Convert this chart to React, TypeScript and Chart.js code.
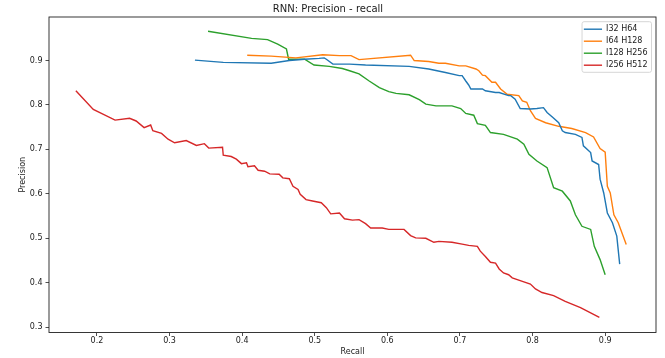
import React, { useEffect, useRef } from "react";
import { Chart, registerables } from "chart.js";

Chart.register(...registerables);

const chartTitle = "RNN: Precision - recall";
const xAxisLabel = "Recall";
const yAxisLabel = "Precision";
const seriesNames = ["I32 H64", "I64 H128", "I128 H256", "I256 H512"];
const seriesColors = ["#1f77b4", "#ff7f0e", "#2ca02c", "#d62728"];
const xTicks = [0.2, 0.3, 0.4, 0.5, 0.6, 0.7, 0.8, 0.9];
const yTicks = [0.3, 0.4, 0.5, 0.6, 0.7, 0.8, 0.9];

// [recall, precision]
const curveI32H64: [number, number][] = [
  [0.335, 0.901], [0.374, 0.896], [0.44, 0.894], [0.465, 0.9], [0.486, 0.903],
  [0.506, 0.905], [0.513, 0.906], [0.516, 0.903], [0.525, 0.892], [0.548, 0.892],
  [0.57, 0.89], [0.63, 0.887], [0.657, 0.881], [0.68, 0.873], [0.699, 0.866],
  [0.703, 0.866], [0.708, 0.854], [0.712, 0.845], [0.715, 0.836], [0.731, 0.836],
  [0.735, 0.832], [0.749, 0.828], [0.754, 0.828], [0.767, 0.821], [0.77, 0.821],
  [0.776, 0.813], [0.783, 0.792], [0.797, 0.791], [0.806, 0.792], [0.815, 0.794],
  [0.82, 0.783], [0.828, 0.772], [0.836, 0.76], [0.841, 0.742], [0.845, 0.738],
  [0.859, 0.734], [0.868, 0.727], [0.87, 0.708], [0.88, 0.693], [0.882, 0.674],
  [0.891, 0.666], [0.893, 0.633], [0.898, 0.602], [0.903, 0.557], [0.91, 0.535],
  [0.916, 0.505], [0.92, 0.442],
];

const curveI64H128: [number, number][] = [
  [0.407, 0.912], [0.44, 0.91], [0.474, 0.906], [0.511, 0.913], [0.534, 0.911],
  [0.55, 0.911], [0.561, 0.902], [0.632, 0.912], [0.637, 0.9], [0.657, 0.898],
  [0.671, 0.894], [0.68, 0.894], [0.699, 0.888], [0.708, 0.888], [0.722, 0.881],
  [0.726, 0.877], [0.731, 0.867], [0.735, 0.866], [0.744, 0.851], [0.749, 0.851],
  [0.756, 0.836], [0.765, 0.824], [0.781, 0.821], [0.786, 0.809], [0.792, 0.806],
  [0.797, 0.787], [0.804, 0.77], [0.818, 0.76], [0.836, 0.752], [0.854, 0.747],
  [0.873, 0.738], [0.884, 0.728], [0.893, 0.702], [0.9, 0.694], [0.903, 0.617],
  [0.907, 0.602], [0.912, 0.553], [0.918, 0.535], [0.929, 0.486],
];

const curveI128H256: [number, number][] = [
  [0.353, 0.966], [0.413, 0.95], [0.435, 0.947], [0.449, 0.937], [0.461, 0.926],
  [0.464, 0.903], [0.486, 0.903], [0.499, 0.89], [0.52, 0.887], [0.538, 0.882],
  [0.548, 0.877], [0.561, 0.87], [0.575, 0.854], [0.589, 0.839], [0.602, 0.83],
  [0.612, 0.826], [0.63, 0.823], [0.644, 0.812], [0.653, 0.802], [0.667, 0.798],
  [0.689, 0.798], [0.701, 0.792], [0.708, 0.781], [0.719, 0.777], [0.724, 0.758],
  [0.735, 0.754], [0.742, 0.738], [0.76, 0.734], [0.779, 0.723], [0.788, 0.712],
  [0.795, 0.689], [0.806, 0.674], [0.82, 0.659], [0.829, 0.614], [0.841, 0.606],
  [0.852, 0.584], [0.859, 0.553], [0.868, 0.527], [0.88, 0.52], [0.885, 0.482],
  [0.893, 0.452], [0.9, 0.418],
];

const curveI256H512: [number, number][] = [
  [0.171, 0.832], [0.195, 0.79], [0.225, 0.766], [0.245, 0.77], [0.254, 0.764],
  [0.265, 0.749], [0.274, 0.755], [0.277, 0.742], [0.289, 0.736], [0.298, 0.723],
  [0.307, 0.715], [0.323, 0.72], [0.337, 0.709], [0.348, 0.713], [0.354, 0.703],
  [0.373, 0.705], [0.374, 0.687], [0.385, 0.684], [0.392, 0.678], [0.399, 0.668],
  [0.406, 0.67], [0.408, 0.661], [0.417, 0.663], [0.422, 0.653], [0.431, 0.651],
  [0.438, 0.645], [0.451, 0.644], [0.456, 0.636], [0.465, 0.634], [0.47, 0.617],
  [0.477, 0.61], [0.48, 0.599], [0.488, 0.587], [0.497, 0.584], [0.509, 0.58],
  [0.516, 0.569], [0.522, 0.555], [0.534, 0.557], [0.541, 0.544], [0.552, 0.541],
  [0.561, 0.542], [0.57, 0.533], [0.577, 0.523], [0.593, 0.523], [0.602, 0.52],
  [0.623, 0.52], [0.632, 0.506], [0.639, 0.501], [0.653, 0.5], [0.664, 0.491],
  [0.671, 0.493], [0.689, 0.491], [0.703, 0.487], [0.712, 0.484], [0.724, 0.482],
  [0.728, 0.471], [0.735, 0.459], [0.742, 0.446], [0.749, 0.444], [0.754, 0.431],
  [0.76, 0.422], [0.767, 0.418], [0.772, 0.411], [0.786, 0.403], [0.797, 0.397],
  [0.804, 0.386], [0.813, 0.378], [0.829, 0.371], [0.845, 0.358], [0.866, 0.344],
  [0.892, 0.322],
];

const curves = [curveI32H64, curveI64H128, curveI128H256, curveI256H512];

const FONT = "'DejaVu Sans', sans-serif";
const TEXT = "#1a1a1a";

const framePlugin = {
  id: "mplFrame",
  afterDatasetsDraw(chart: any) {
    const { ctx, chartArea: a } = chart;
    ctx.save();
    ctx.strokeStyle = "#222";
    ctx.lineWidth = 0.9;
    ctx.strokeRect(a.left, a.top, a.right - a.left, a.bottom - a.top);
    ctx.restore();
  },
};

const legendPlugin = {
  id: "mplLegend",
  afterDraw(chart: any) {
    const { ctx, chartArea: a } = chart;
    ctx.save();
    ctx.font = `8px ${FONT}`;
    const textW = Math.max(...seriesNames.map((n) => ctx.measureText(n).width));
    const boxRight = a.right - 4.5;
    const boxTop = a.top + 4.7;
    const boxW = 24 + textW + 4;
    const boxLeft = boxRight - boxW;
    const rowH = 12;
    const boxH = 50.6;
    const r = 2;
    ctx.beginPath();
    ctx.moveTo(boxLeft + r, boxTop);
    ctx.lineTo(boxRight - r, boxTop);
    ctx.arcTo(boxRight, boxTop, boxRight, boxTop + r, r);
    ctx.lineTo(boxRight, boxTop + boxH - r);
    ctx.arcTo(boxRight, boxTop + boxH, boxRight - r, boxTop + boxH, r);
    ctx.lineTo(boxLeft + r, boxTop + boxH);
    ctx.arcTo(boxLeft, boxTop + boxH, boxLeft, boxTop + boxH - r, r);
    ctx.lineTo(boxLeft, boxTop + r);
    ctx.arcTo(boxLeft, boxTop, boxLeft + r, boxTop, r);
    ctx.closePath();
    ctx.fillStyle = "rgba(255,255,255,0.8)";
    ctx.fill();
    ctx.strokeStyle = "#d6d6d6";
    ctx.lineWidth = 1;
    ctx.stroke();
    seriesNames.forEach((name, i) => {
      const y = boxTop + 7.5 + i * rowH;
      ctx.beginPath();
      ctx.moveTo(boxLeft + 1.8, y);
      ctx.lineTo(boxLeft + 20, y);
      ctx.strokeStyle = seriesColors[i];
      ctx.lineWidth = 1.4;
      ctx.stroke();
      ctx.fillStyle = TEXT;
      ctx.textAlign = "left";
      ctx.textBaseline = "middle";
      ctx.fillText(name, boxLeft + 24, y);
    });
    ctx.restore();
  },
};

export default function App() {
  const canvasRef = useRef<HTMLCanvasElement | null>(null);

  useEffect(() => {
    if (!canvasRef.current) return;
    const chart = new Chart(canvasRef.current, {
      type: "line",
      data: {
        datasets: curves.map((pts, i) => ({
          label: seriesNames[i],
          data: pts.map(([x, y]) => ({ x, y })),
          borderColor: seriesColors[i],
          backgroundColor: seriesColors[i],
          borderWidth: 1.4,
          pointRadius: 0,
          tension: 0,
          fill: false,
        })),
      },
      options: {
        responsive: false,
        animation: false,
        devicePixelRatio: 1,
        layout: { padding: { left: 0, right: 9, top: 0, bottom: 0 } },
        plugins: {
          legend: { display: false },
          tooltip: { enabled: false },
          title: {
            display: true,
            text: chartTitle,
            color: TEXT,
            font: { family: FONT, size: 10, weight: "normal", lineHeight: 1.2 },
            padding: { top: 3.5, bottom: 1.5 },
          },
        },
        scales: {
          x: {
            type: "linear",
            min: 0.134,
            max: 0.97,
            afterBuildTicks: (s: any) => {
              s.ticks = xTicks.map((v) => ({ value: v }));
            },
            afterFit: (s: any) => {
              s.height = 25.5;
            },
            ticks: {
              color: TEXT,
              font: { family: FONT, size: 8, lineHeight: 1.2 },
              padding: 0.5,
              maxRotation: 0,
              autoSkip: false,
              callback: (v: any) => Number(v).toFixed(1),
            },
            grid: {
              display: true,
              drawOnChartArea: false,
              drawTicks: true,
              tickLength: 3.5,
              color: "#222",
              lineWidth: 0.8,
            },
            border: { display: false },
            title: {
              display: true,
              text: xAxisLabel,
              color: TEXT,
              font: { family: FONT, size: 8, lineHeight: 1.2 },
              padding: { top: 0, bottom: 1.2 },
            },
          },
          y: {
            type: "linear",
            min: 0.288,
            max: 0.998,
            afterBuildTicks: (s: any) => {
              s.ticks = yTicks.map((v) => ({ value: v }));
            },
            afterFit: (s: any) => {
              s.width = 49;
            },
            ticks: {
              color: TEXT,
              font: { family: FONT, size: 8, lineHeight: 1.2 },
              padding: 3,
              autoSkip: false,
              callback: (v: any) => Number(v).toFixed(1),
            },
            grid: {
              display: true,
              drawOnChartArea: false,
              drawTicks: true,
              tickLength: 3.5,
              color: "#222",
              lineWidth: 0.8,
            },
            border: { display: false },
            title: {
              display: true,
              text: yAxisLabel,
              color: TEXT,
              font: { family: FONT, size: 8, lineHeight: 1.2 },
              padding: { top: 17.9, bottom: 0 },
            },
          },
        },
      },
      plugins: [framePlugin, legendPlugin],
    } as any);
    return () => chart.destroy();
  }, []);

  return (
    <div style={{ position: "absolute", left: 0, top: 0, width: 665, height: 358, background: "#fff" }}>
      <canvas ref={canvasRef} width={665} height={358} style={{ display: "block" }} />
    </div>
  );
}
